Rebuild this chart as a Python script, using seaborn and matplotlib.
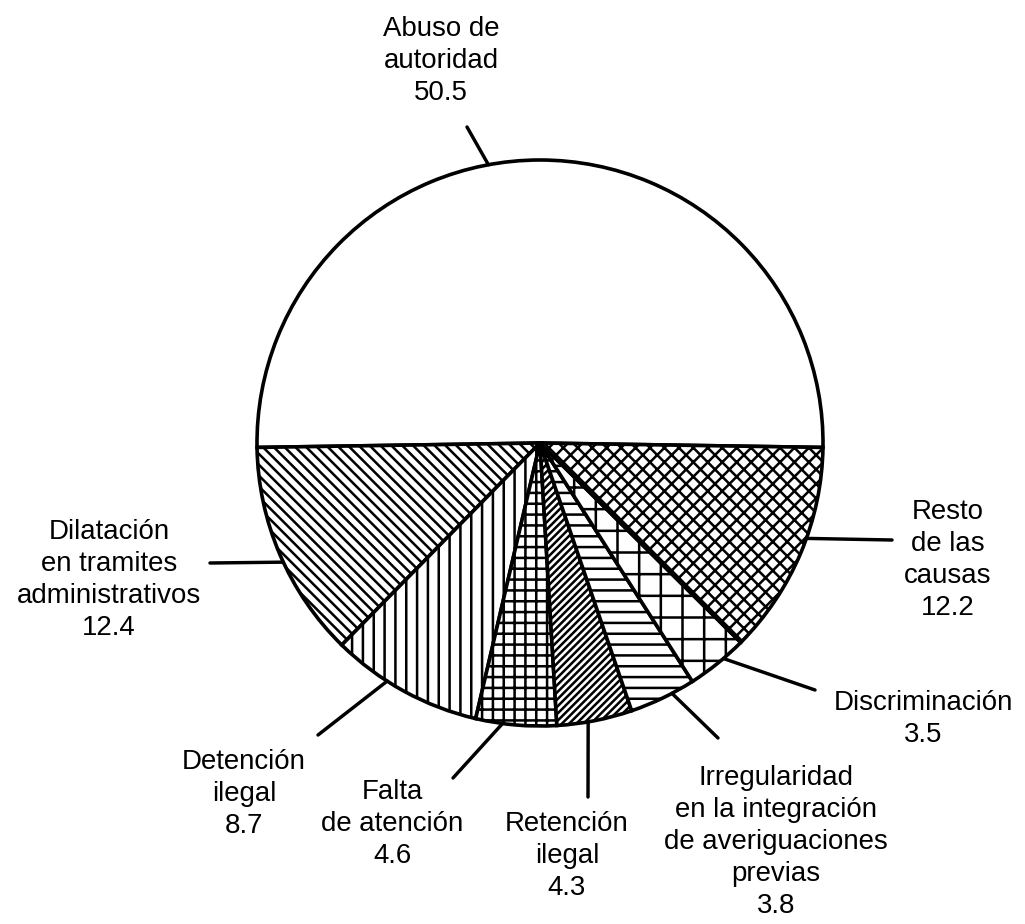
import numpy as np
import matplotlib
import seaborn as sns
from matplotlib import pyplot as plt

matplotlib.use("Agg")

# datos (porcentajes de quejas por causa)
categories = [
    "Abuso de\nautoridad",
    "Dilatación\nen tramites\nadministrativos",
    "Detención\nilegal",
    "Falta\nde atención",
    "Retención\nilegal",
    "Irregularidad\nen la integración\nde averiguaciones\nprevias",
    "Discriminación",
    "Resto\nde las\ncausas",
]
values = [50.5, 12.4, 8.7, 4.6, 4.3, 3.8, 3.5, 12.2]
value_labels = ["50.5", "12.4", "8.7", "4.6", "4.3", "3.8", "3.5", "12.2"]
hatches = ["", "\\\\\\\\", "||", "++", "//////", "--", "+", "xxx"]

# layout in image pixels: label last-baseline position, leader rim angle, leader end point
W, H, DPI = 1025, 924, 130
CX, CY, R = 540, 443, 283
label_pos = [(441, 100), (109, 635), (244, 833), (392, 863), (567, 895), (776, 913), (923, 742), (948, 615)]
leader_angle = [100.5, 204.9, 237.3, 262.4, 279.8, 297.8, 310.4, 340.3]
leader_end = [(467, 127), (210, 563), (318, 735), (453, 778), (588, 797), (718, 738), (815, 690), (892, 540)]


def px(x, y):
    return (x - CX) / R, (CY - y) / R


sns.set_theme(style="white")
plt.rcParams["font.family"] = ["Liberation Sans", "DejaVu Sans"]
plt.rcParams["hatch.linewidth"] = 1.4
plt.rcParams["hatch.color"] = "black"

fig = plt.figure(figsize=(W / DPI, H / DPI), dpi=DPI)
ax = fig.add_axes([0, 0, 1, 1])

wedges, _ = ax.pie(
    values,
    startangle=-0.9,
    counterclock=True,
    radius=1,
    center=(0, 0),
    frame=False,
    wedgeprops=dict(facecolor="white", edgecolor="black", linewidth=2.0),
)
for wedge, hatch in zip(wedges, hatches):
    wedge.set_hatch(hatch)

for cat, val, pos, ang, end in zip(categories, value_labels, label_pos, leader_angle, leader_end):
    rim = (np.cos(np.radians(ang)), np.sin(np.radians(ang)))
    ax.annotate(
        "",
        xy=rim,
        xytext=px(*end),
        arrowprops=dict(arrowstyle="-", color="black", lw=1.9, shrinkA=0, shrinkB=0),
    )
    ax.text(
        *px(*pos),
        f"{cat}\n{val}",
        ha="center",
        va="baseline",
        multialignment="center",
        fontsize=15.3,
        linespacing=1.3,
        color="black",
    )

ax.set_aspect("equal")
ax.set_xlim(-CX / R, (W - CX) / R)
ax.set_ylim((CY - H) / R, CY / R)
ax.axis("off")

fig.savefig("out.png", dpi=DPI, facecolor="white")
